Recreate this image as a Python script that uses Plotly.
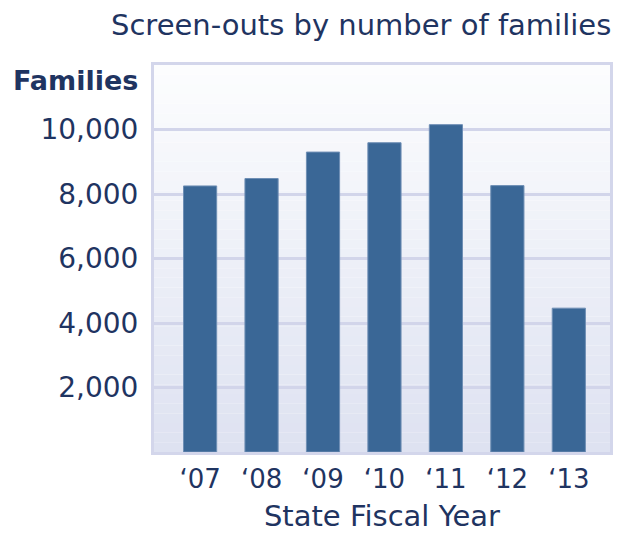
import plotly.graph_objects as go

years = ["‘07", "‘08", "‘09", "‘10", "‘11", "‘12", "‘13"]
families = [8250, 8480, 9300, 9590, 10150, 8260, 4460]
y_ticks = [2000, 4000, 6000, 8000, 10000]
y_tick_labels = ["2,000", "4,000", "6,000", "8,000", "10,000"]

navy = "#1f3461"
font_family = "DejaVu Sans"

fig = go.Figure()
fig.add_trace(go.Bar(
    x=list(range(len(years))), y=families,
    marker=dict(color="#3a6796", line=dict(color="#6f8fb5", width=1)),
    width=0.54,
))

# gradient background bands
n = 40
shapes = []
for i in range(n):
    t = i / (n - 1)
    r = int(round(252 + (222 - 252) * (1 - t)))
    g = int(round(253 + (226 - 253) * (1 - t)))
    b = int(round(254 + (241 - 254) * (1 - t)))
    shapes.append(dict(type="rect", xref="x domain", yref="y domain",
                       x0=0, x1=1, y0=i / n, y1=(i + 1) / n,
                       fillcolor=f"rgb({r},{g},{b})", line=dict(width=0),
                       layer="below"))

fig.update_layout(
    width=618, height=534,
    margin=dict(l=154, r=5, t=65, b=82),
    paper_bgcolor="white", plot_bgcolor="white",
    showlegend=False,
    shapes=shapes,
    font=dict(family=font_family, color=navy),
    xaxis=dict(
        range=[-0.75, 6.67],
        tickmode="array", tickvals=list(range(len(years))), ticktext=years,
        tickfont=dict(size=26, color=navy),
        showgrid=False, zeroline=False,
        showline=True, mirror=True, linecolor="#d3d6eb", linewidth=3,
        ticks="", ticklabelstandoff=2,
        title=dict(text="State Fiscal Year", font=dict(size=29, color=navy), standoff=13),
    ),
    yaxis=dict(
        range=[0, 12000],
        tickmode="array", tickvals=y_ticks, ticktext=y_tick_labels,
        tickfont=dict(size=28, color=navy),
        showgrid=True, gridcolor="#d2d5ea", gridwidth=3,
        zeroline=False,
        showline=True, mirror=True, linecolor="#d3d6eb", linewidth=3,
        ticks="", ticklabelstandoff=7,
    ),
    annotations=[
        dict(text="Screen-outs by number of families", xref="paper", yref="paper",
             x=1.0, y=1.0, xanchor="right", yanchor="middle", yshift=40, xshift=3,
             showarrow=False, font=dict(size=29, color=navy)),
        dict(text="<b>Families</b>", xref="paper", yref="paper",
             x=0, y=1.0, xanchor="right", yanchor="middle", xshift=-14, yshift=-15,
             showarrow=False, font=dict(size=27, color=navy)),
    ],
)

fig.write_html("out.html")
